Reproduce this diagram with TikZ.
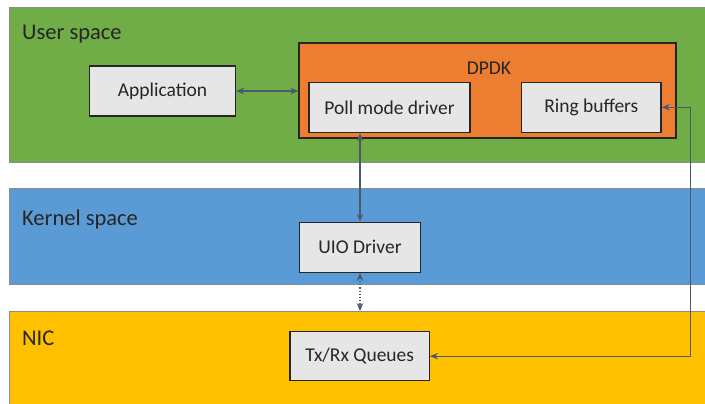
\documentclass[tikz,border=0pt]{standalone}
\usepackage{fontspec}
\setmainfont{Carlito}
\usepackage{tikz}
\usetikzlibrary{arrows.meta}

\definecolor{userGreen}{HTML}{70AD47}
\definecolor{kernelBlue}{HTML}{5B9BD5}
\definecolor{nicYellow}{HTML}{FFC000}
\definecolor{dpdkOrange}{HTML}{ED7D31}
\definecolor{boxGray}{HTML}{E6E6E6}
\definecolor{linkGray}{HTML}{4A5A6E}

\tikzset{
    band/.style={fill, draw=none, anchor=north west, inner sep=0pt},
    bandedge/.style={draw=black!45, line width=0.8pt},
    bandlabel/.style={draw=none, fill=none, anchor=base west, inner sep=0pt, font=\fontsize{22.5}{26}\selectfont, text=black!85},
    blockbox/.style={draw=black!85, fill=boxGray, line width=1.3pt, minimum height=50pt, inner sep=0pt, font=\fontsize{19.5}{23}\selectfont, text=black!85},
    link/.style={draw=linkGray, line width=1.2pt, {Stealth[length=8pt,width=6.5pt]}-{Stealth[length=8pt,width=6.5pt]}}
}

\begin{document}
\begin{tikzpicture}[x=1pt, y=-1pt]
            \useasboundingbox (0,0) rectangle (705,404);
            \clip (0,0) rectangle (705,404);
            \fill[white] (0,0) rectangle (705,404);
            % the three layers
            \foreach \i/\col/\ytop/\hgt/\lbl/\base in {1/userGreen/7/154.5/User space/40,
                                                    2/kernelBlue/188/95.5/Kernel space/225,
                                                    3/nicYellow/311/130/NIC/345} {
                \node[band, fill=\col, minimum width=703pt, minimum height=\hgt pt] (band\i) at (9,\ytop) {};
                \draw[bandedge] (band\i.north east) -- (band\i.north west) -- (band\i.south west) -- (band\i.south east);
                \node[bandlabel] (lbl\i) at (22,\base) {\lbl};
            }
            % DPDK block
            \node[draw=black!85, fill=dpdkOrange, line width=1.3pt, minimum width=377pt, minimum height=95pt] (dpdk) at (487.5,90.5) {};
            \node[draw=none, fill=none, font=\fontsize{19.5}{23}\selectfont, text=black!85] (dpdklbl) at (489,68) {DPDK};
            \node[blockbox, minimum width=146pt] (app) at (162.5,91) {Application};
            \node[blockbox, minimum width=161pt] (pmd) at (389.5,107.5) {Poll mode driver};
            \node[blockbox, minimum width=139.5pt] (ring) at (591.3,107.3) {Ring buffers};
            \node[blockbox, minimum width=121.5pt] (uio) at (360,247.3) {UIO Driver};
            \node[blockbox, minimum width=139.3pt, minimum height=49pt] (txrx) at (359.7,356.2) {Tx/Rx Queues};
            % connectors
            \coordinate (bend) at (690.5,107.3);
            \draw[link] (app.east) -- (app.east -| dpdk.west);
            \draw[link] (uio.north |- pmd.south) -- (uio.north);
            \draw[link, dotted] (uio.south) -- (uio.south |- band3.north);
            \draw[link] (ring.east) -- (bend) |- (txrx.east);
        \end{tikzpicture}
\end{document}
